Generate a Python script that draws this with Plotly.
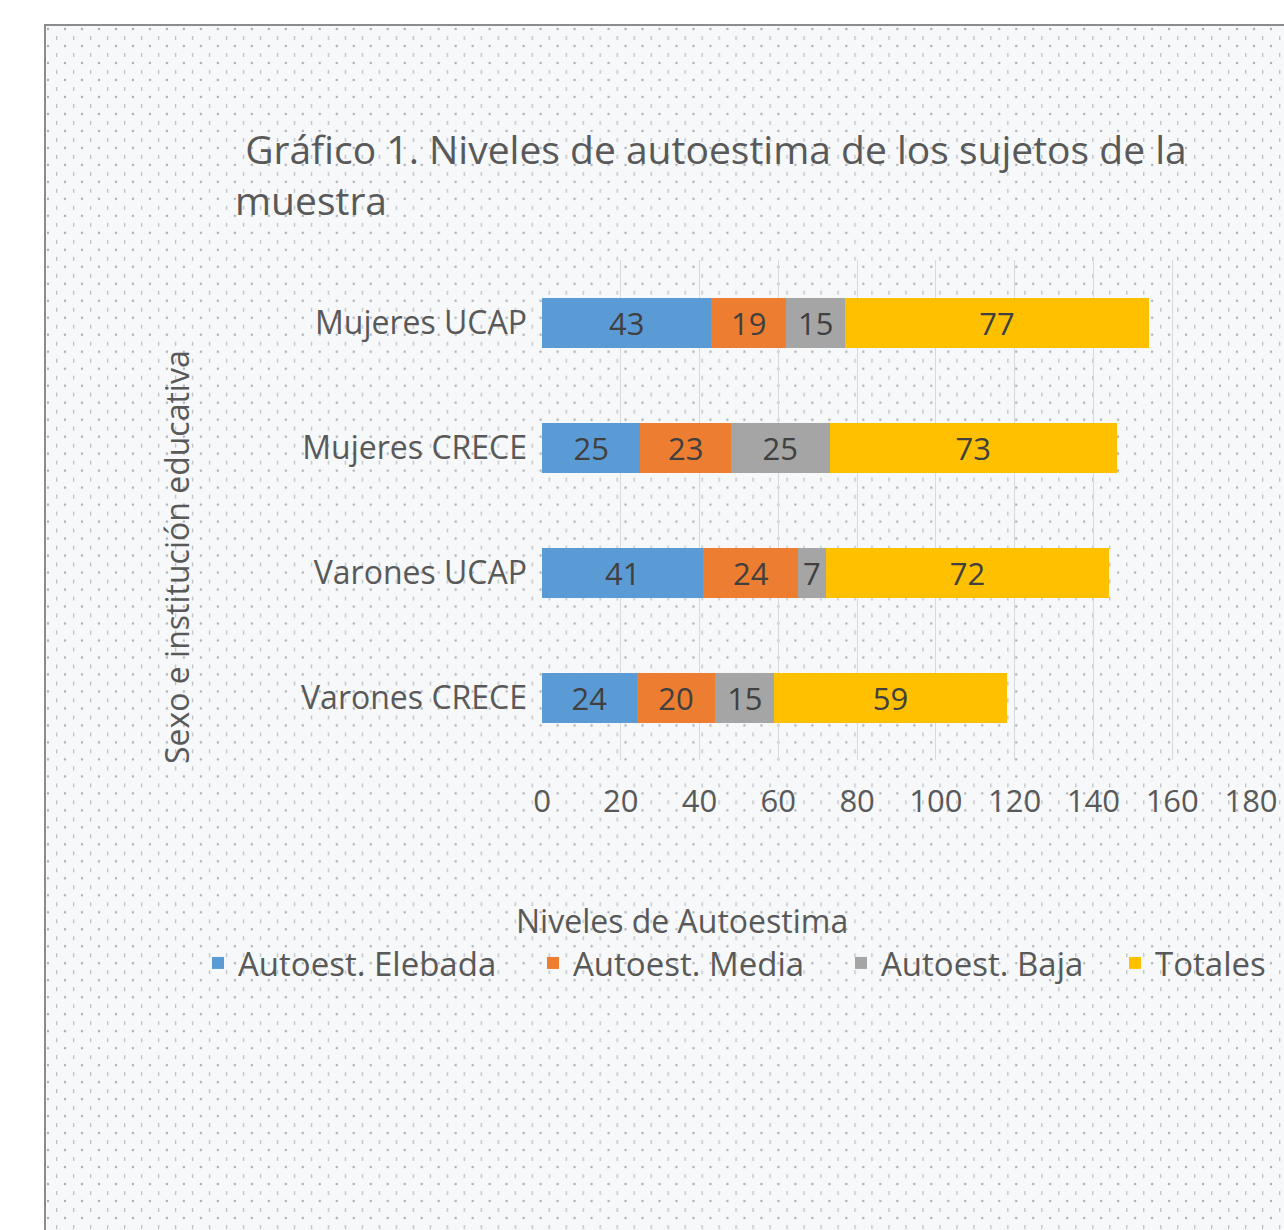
import plotly.graph_objects as go
import urllib.parse

categories = ["Varones CRECE", "Varones UCAP", "Mujeres CRECE", "Mujeres UCAP"]
series_names = ["Autoest. Elebada", "Autoest. Media", "Autoest. Baja", "Totales"]
elevada = [24, 41, 25, 43]
media = [20, 24, 23, 19]
baja = [15, 7, 25, 15]
totales = [59, 72, 73, 77]
x_ticks = [0, 20, 40, 60, 80, 100, 120, 140, 160, 180]
colors = ["#5B9BD5", "#ED7D31", "#A5A5A5", "#FFC000"]

FONT = "Open Sans"
TXT = "#595959"
W, H = 1284, 1230
L, R, T, B = 542, 33, 260, 470
pw, ph = W - L - R, H - T - B

def px_x(p):
    return (p - L) / pw

def px_y(p):
    return (H - B - p) / ph

legend_ids = ["legend", "legend2", "legend3", "legend4"]
legend_left_px = [198, 533, 841, 1115]

fig = go.Figure()
for name, vals, col, lid in zip(series_names, [elevada, media, baja, totales], colors, legend_ids):
    fig.add_trace(go.Bar(
        y=categories, x=vals, name=name, orientation="h", legend=lid,
        marker=dict(color=col, line=dict(width=0)),
        text=[str(v) for v in vals], textposition="inside",
        insidetextanchor="middle", textangle=0, constraintext="none",
        textfont=dict(family=FONT, size=31, color="#404040"),
    ))

svg = ("<svg xmlns='http://www.w3.org/2000/svg' width='1239' height='1205'>"
       "<defs><pattern id='p' width='17' height='17' patternUnits='userSpaceOnUse'>"
       "<rect width='17' height='17' fill='#f6f8fa'/>"
       "<circle cx='2' cy='3' r='1.2' fill='#aab0b5'/>"
       "<rect x='10' y='10' width='1.3' height='4' fill='#bcc1c5'/>"
       "</pattern></defs><rect width='1239' height='1205' fill='url(#p)'/></svg>")
src = "data:image/svg+xml;utf8," + urllib.parse.quote(svg)

legend_layouts = {}
for lid, lx in zip(legend_ids, legend_left_px):
    legend_layouts[lid] = dict(
        orientation="h", x=px_x(lx), xanchor="left",
        y=px_y(963), yanchor="middle",
        font=dict(family=FONT, size=33, color=TXT),
        bgcolor="rgba(0,0,0,0)", itemwidth=30)

fig.update_layout(
    width=W, height=H,
    margin=dict(l=L, r=R, t=T, b=B, autoexpand=False),
    paper_bgcolor="white", plot_bgcolor="rgba(0,0,0,0)",
    barmode="stack", bargap=0.6,
    font=dict(family=FONT, color=TXT),
    images=[dict(source=src, xref="paper", yref="paper",
                 x=px_x(46), y=px_y(26), sizex=px_x(1284) - px_x(46),
                 sizey=px_y(26) - px_y(1230), xanchor="left", yanchor="top",
                 sizing="stretch", layer="below")],
    shapes=[dict(type="rect", xref="paper", yref="paper",
                 x0=px_x(45), x1=px_x(1300), y0=px_y(25), y1=px_y(1250),
                 line=dict(color="#8c8c8c", width=2), fillcolor="rgba(0,0,0,0)",
                 layer="below")],
    xaxis=dict(range=[0, 180], tickvals=x_ticks, showgrid=True,
               gridcolor="#d9d9d9", gridwidth=1, zeroline=False,
               showline=False, ticks="",
               tickfont=dict(family=FONT, size=31, color=TXT),
               ticklabelstandoff=20),
    yaxis=dict(categoryorder="array", categoryarray=categories,
               showgrid=False, zeroline=False, showline=False, ticks="",
               tickfont=dict(family=FONT, size=32, color=TXT),
               ticklabelstandoff=14),
    showlegend=True,
    annotations=[
        dict(text="\u00a0Gráfico 1. Niveles de autoestima de los sujetos de la<br>muestra",
             xref="paper", yref="paper", x=px_x(233), y=px_y(120),
             xanchor="left", yanchor="top", align="left", showarrow=False,
             font=dict(family=FONT, size=39, color=TXT)),
        dict(text="Niveles de Autoestima", xref="paper", yref="paper",
             x=px_x(682), y=px_y(920), xanchor="center", yanchor="middle",
             showarrow=False, font=dict(family=FONT, size=32, color=TXT)),
        dict(text="Sexo e institución educativa", xref="paper", yref="paper",
             x=px_x(176), y=px_y(557), xanchor="center", yanchor="middle",
             textangle=-90, showarrow=False,
             font=dict(family=FONT, size=32, color=TXT)),
    ],
)
fig.update_layout(**legend_layouts)

fig.write_html("out.html", config={"displayModeBar": False})
with open("out.html", "r", encoding="utf-8") as f:
    html = f.read()
html = html.replace("<head>", "<head><style>html,body{margin:0;padding:0;overflow:hidden;}</style>", 1)
with open("out.html", "w", encoding="utf-8") as f:
    f.write(html)
